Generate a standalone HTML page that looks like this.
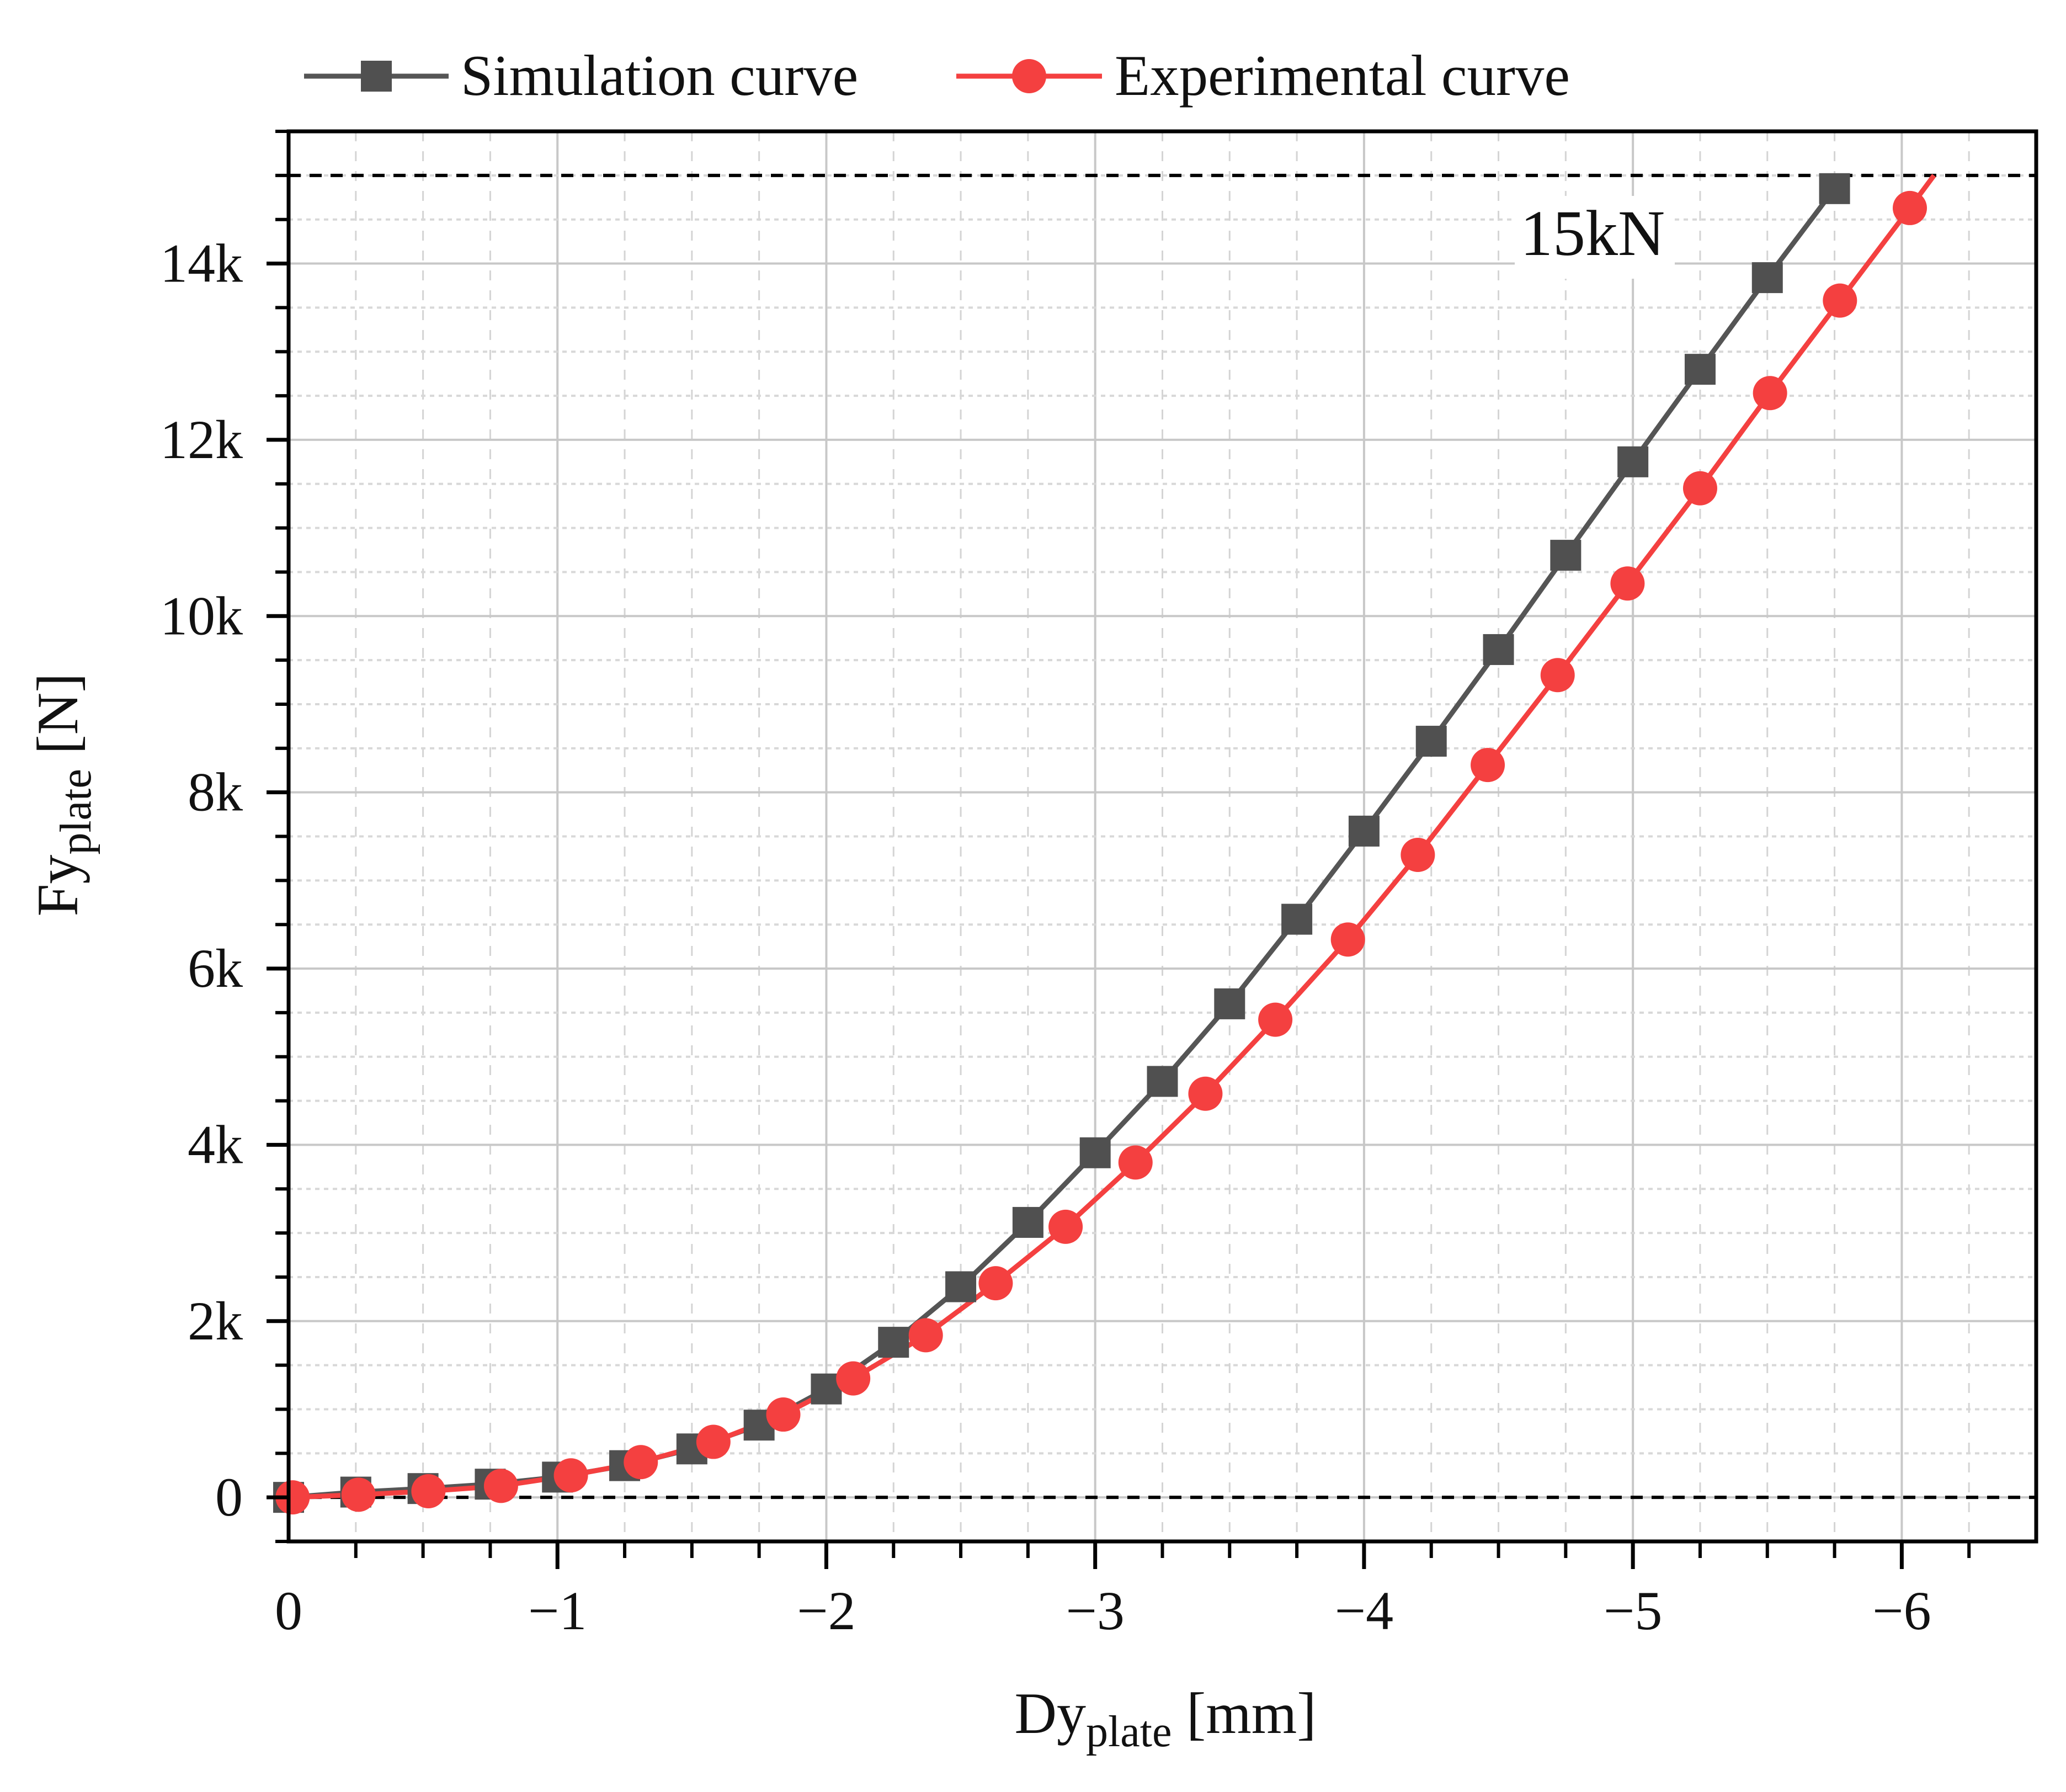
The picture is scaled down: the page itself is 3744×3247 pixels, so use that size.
<!DOCTYPE html>
<html><head><meta charset="utf-8"><style>
html,body{margin:0;padding:0;background:#fff;}
svg{display:block;font-family:"Liberation Serif",serif;}
</style></head><body>
<svg id="chart" width="3744" height="3247" viewBox="0 0 3744 3247" xmlns="http://www.w3.org/2000/svg">
<g id="grid"></g>
<g id="refs"></g>
<g id="series"></g>
<g id="axes"></g>
<g>
<rect x="2745" y="355" width="290" height="150" fill="#fff"/>
<text x="2755" y="462" font-size="118" fill="#111">15kN</text>
</g>
<g>
<g>
<line x1="551" y1="138" x2="813" y2="138" stroke="#555" stroke-width="9"/>
<rect x="654" y="110" width="56" height="56" fill="#505050"/>
<text x="835" y="172" font-size="105" fill="#111">Simulation curve</text>
</g>
<g>
<line x1="1733" y1="138" x2="1997" y2="138" stroke="#f44040" stroke-width="9"/>
<circle cx="1865" cy="138" r="31" fill="#f44040"/>
<text x="2020" y="172" font-size="105" fill="#111">Experimental curve</text>
</g>
</g>
<text transform="translate(140,1440) rotate(-90)" text-anchor="middle" font-size="106" fill="#111">Fy<tspan font-size="80" dy="24">plate</tspan><tspan dy="-24"> [N]</tspan></text>
<text x="2112" y="3140" text-anchor="middle" font-size="106" fill="#111">Dy<tspan font-size="80" dy="24">plate</tspan><tspan dy="-24"> [mm]</tspan></text>
</svg>
<script>
const simX = [0,-0.25,-0.5,-0.75,-1,-1.25,-1.5,-1.75,-2,-2.25,-2.5,-2.75,-3,-3.25,-3.5,-3.75,-4,-4.25,-4.5,-4.75,-5,-5.25,-5.5,-5.75];
const simY = [0,60,100,150,230,360,550,820,1230,1760,2390,3120,3910,4720,5600,6560,7560,8580,9620,10690,11750,12800,13840,14850];
const expX = [-0.015,-0.26,-0.52,-0.79,-1.05,-1.31,-1.58,-1.84,-2.1,-2.37,-2.63,-2.89,-3.15,-3.41,-3.67,-3.94,-4.2,-4.46,-4.72,-4.98,-5.25,-5.51,-5.77,-6.03];
const expY = [0,30,70,130,250,400,630,940,1350,1840,2430,3070,3800,4580,5420,6330,7290,8310,9330,10370,11450,12530,13580,14630];
const expEndX = -6.12;
const expEndY = 15000;
const xTicks = [0,-1,-2,-3,-4,-5,-6];
const xTickLabels = ["0","\u22121","\u22122","\u22123","\u22124","\u22125","\u22126"];
const yTicks = [0,2000,4000,6000,8000,10000,12000,14000];
const yTickLabels = ["0","2k","4k","6k","8k","10k","12k","14k"];
const refLines = [0,15000];

const L=523,R=3690,T=238,B=2793;
const xMin=0,xMax=-6.5,yMin=-500,yMax=15500;
const X=v=>L+(v-xMin)/(xMax-xMin)*(R-L);
const Y=v=>B-(v-yMin)/(yMax-yMin)*(B-T);
const NS="http://www.w3.org/2000/svg";
function mk(tag,attrs,parent){const e=document.createElementNS(NS,tag);for(const k in attrs)e.setAttribute(k,attrs[k]);parent.appendChild(e);return e;}
const grid=document.getElementById('grid'),axes=document.getElementById('axes'),series=document.getElementById('series'),refs=document.getElementById('refs');

for(let i=1;i<26;i++){const v=-i*0.25;const major=i%4===0;
 const g=mk('line',{x1:X(v),x2:X(v),y1:T,y2:B,stroke:major?'#c8c8c8':'#d4d4d4','stroke-width':major?4:3,'stroke-dasharray':major?'none':'18 18'},grid);
 
 
 const t=mk('line',{x1:X(v),x2:X(v),y1:B,y2:B+(major?50:30),stroke:'#000','stroke-width':major?7:6},axes);
 
 }
for(let i=-1;i<=31;i++){const v=i*500;const major=i%4===0;
 const g=mk('line',{x1:L,x2:R,y1:Y(v),y2:Y(v),stroke:major?'#c8c8c8':'#d8d8d8','stroke-width':4,'stroke-dasharray':major?'none':'8 8'},grid);
 
 
 const t=mk('line',{x1:L-(major?40:24),x2:L,y1:Y(v),y2:Y(v),stroke:'#000','stroke-width':major?7:6},axes);
 
 }
refLines.forEach(v=>{const l=mk('line',{x1:L,x2:R,y1:Y(v),y2:Y(v),stroke:'#000','stroke-width':6,'stroke-dasharray':'22 16'},refs);
 
 });

const fr=mk('rect',{x:L,y:T,width:R-L,height:B-T,fill:'none',stroke:'#000','stroke-width':7},axes);



xTicks.forEach((v,i)=>{const t=mk('text',{x:X(v),y:2952,'text-anchor':'middle','font-size':100,fill:'#111'},axes);t.textContent=xTickLabels[i];
 
 });
yTicks.forEach((v,i)=>{const t=mk('text',{x:440,y:Y(v)+33,'text-anchor':'end','font-size':100,fill:'#111'},axes);t.textContent=yTickLabels[i];
 
 });

let ps=simX.map((x,i)=>X(x)+','+Y(simY[i])).join(' ');
const sl=mk('polyline',{points:ps,fill:'none',stroke:'#555','stroke-width':9},series);


let pe=expX.map((x,i)=>X(x)+','+Y(expY[i])).join(' ')+' '+X(expEndX)+','+Y(expEndY);
const el=mk('polyline',{points:pe,fill:'none',stroke:'#f44040','stroke-width':9},series);


simX.forEach((x,i)=>{const r=mk('rect',{x:X(x)-28,y:Y(simY[i])-28,width:56,height:56,fill:'#505050'},series);
 
 });
expX.forEach((x,i)=>{const c=mk('circle',{cx:X(x),cy:Y(expY[i]),r:31,fill:'#f44040'},series);
 
 });
</script>
</body></html>
